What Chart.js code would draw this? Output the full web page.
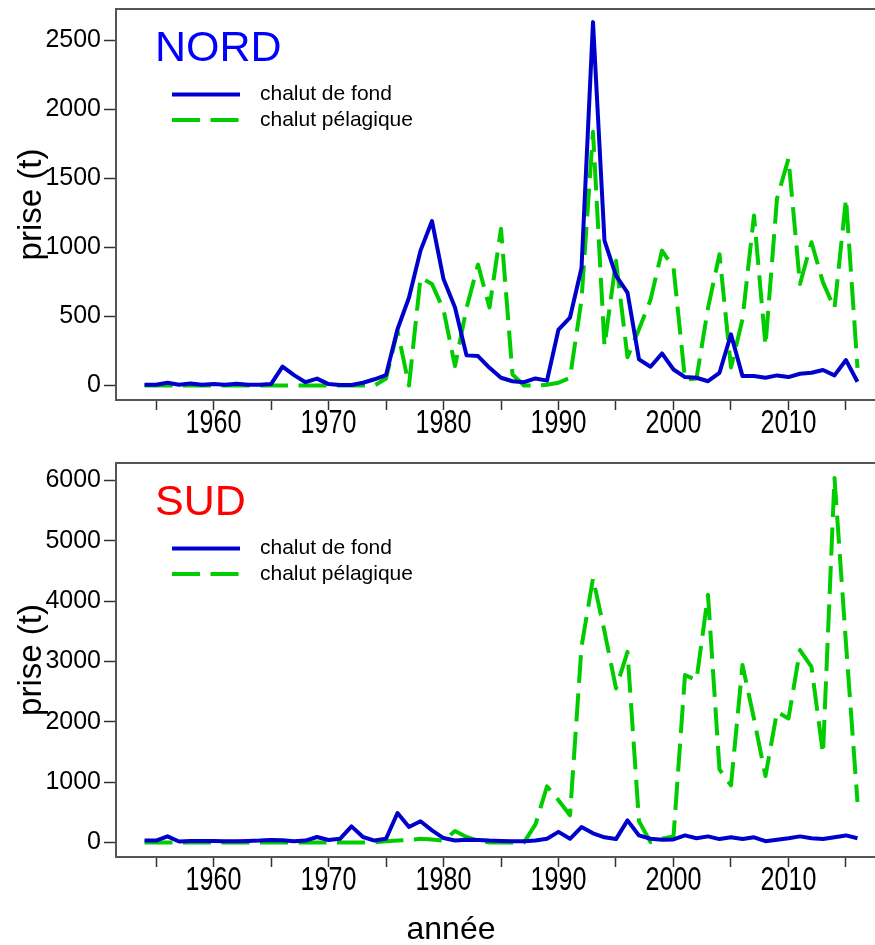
<!DOCTYPE html>
<html><head><meta charset="utf-8">
<script src="https://cdn.jsdelivr.net/npm/chart.js@4.4.0/dist/chart.umd.min.js"></script>
<style>
html,body{margin:0;padding:0;overflow:hidden;background:#fff;width:875px;height:945px}
canvas{position:absolute;left:0}
</style></head><body>
<canvas id="nord" width="900" height="445" style="top:0px"></canvas>
<canvas id="sud" width="900" height="500" style="top:445px"></canvas>
<script>
const years = [1954,1955,1956,1957,1958,1959,1960,1961,1962,1963,1964,1965,1966,1967,1968,1969,
  1970,1971,1972,1973,1974,1975,1976,1977,1978,1979,1980,1981,1982,1983,1984,1985,1986,1987,1988,1989,
  1990,1991,1992,1993,1994,1995,1996,1997,1998,1999,2000,2001,2002,2003,2004,2005,2006,2007,2008,2009,
  2010,2011,2012,2013,2014,2015,2016];

const nordFond = [5,5,20,5,15,5,10,5,12,5,5,10,136,75,24,50,
  10,3,3,20,45,75,407,637,976,1190,770,565,218,213,128,56,31,24,51,35,
  405,492,850,2630,1049,795,673,189,136,232,116,61,56,31,92,370,68,68,56,73,
  61,85,92,112,73,184,27];
const nordPelagique = [0,0,0,0,0,0,0,0,0,0,0,0,0,0,0,0,
  0,0,0,0,0,50,395,0,780,734,550,140,560,875,565,1134,80,0,0,5,
  20,56,620,1836,286,903,205,407,620,976,855,44,50,560,950,130,480,1230,290,1352,
  1642,734,1037,746,557,1352,128];

const sudFond = [30,30,100,15,25,25,25,20,20,25,30,40,35,20,30,90,
  40,60,266,90,30,60,487,255,350,200,72,33,45,40,30,25,20,20,30,60,
  175,60,255,150,85,55,365,116,61,45,50,116,70,100,55,85,55,85,20,45,
  70,100,70,55,85,116,70];
const sudPelagique = [0,0,0,0,0,0,0,0,0,0,0,0,0,0,0,0,
  0,0,0,0,0,20,30,40,60,50,30,188,90,30,0,0,0,0,300,930,
  700,450,3245,4380,3500,2553,3160,350,5,60,100,2775,2692,4105,1210,947,2941,2050,1100,2166,
  2055,3190,2910,1473,6045,3300,670];

const seriesLabels = ['chalut de fond', 'chalut pélagique'];
const xTickValues = [1955,1960,1965,1970,1975,1980,1985,1990,1995,2000,2005,2010,2015];
const xLabelledTicks = [1960,1970,1980,1990,2000,2010];
const nordYTicks = [0,500,1000,1500,2000,2500];
const sudYTicks = [0,1000,2000,3000,4000,5000,6000];

const BLUE = '#0000CC', GREEN = '#00CC00', FRAME = '#555555';
const SANS = '"Liberation Sans", Arial, sans-serif';

const decor = {
  id: 'decor',
  afterDraw(chart, args, opts) {
    const ctx = chart.ctx, a = chart.chartArea, xs = chart.scales.x;
    ctx.save();
    ctx.strokeStyle = FRAME; ctx.lineWidth = 2; ctx.setLineDash([]);
    ctx.strokeRect(a.left, a.top, a.right - a.left, a.bottom - a.top);
    // condensed x tick labels
    ctx.fillStyle = '#000'; ctx.textAlign = 'center'; ctx.textBaseline = 'middle';
    ctx.font = '33px ' + SANS;
    xLabelledTicks.forEach(v => {
      const px = xs.getPixelForValue(v);
      ctx.save();
      ctx.translate(px, a.bottom + 24);
      ctx.scale(0.76, 1);
      ctx.fillText(String(v), 0, 0);
      ctx.restore();
    });
    // panel title
    ctx.font = '43px ' + SANS;
    ctx.fillStyle = opts.color; ctx.textAlign = 'left'; ctx.textBaseline = 'alphabetic';
    ctx.fillText(opts.title, 155, a.top + 52);
    // legend
    chart.data.datasets.forEach((ds, i) => {
      const y = a.top + 85.5 + i * 25.5;
      ctx.beginPath();
      ctx.setLineDash(ds.borderDash || []);
      ctx.lineWidth = ds.borderWidth; ctx.strokeStyle = ds.borderColor; ctx.lineCap = 'butt';
      ctx.moveTo(172, y); ctx.lineTo(240, y); ctx.stroke();
      ctx.setLineDash([]);
      ctx.font = '21px ' + SANS; ctx.fillStyle = '#000'; ctx.textBaseline = 'middle';
      ctx.fillText(ds.label, 260, y);
    });
    if (opts.xTitle) {
      ctx.font = '32px ' + SANS; ctx.fillStyle = '#000';
      ctx.textAlign = 'center'; ctx.textBaseline = 'middle';
      ctx.fillText(opts.xTitle, 451, opts.xTitleY);
    }
    ctx.restore();
  }
};

function makeChart(id, fond, pel, yMin, yMax, yTicks, title, color, padTop, xHeight, xTitle, xTitleY) {
  return new Chart(document.getElementById(id), {
    type: 'line',
    data: {
      datasets: [
        { label: seriesLabels[0], data: years.map((y, i) => ({x: y, y: fond[i]})),
          borderColor: BLUE, borderWidth: 4, pointRadius: 0, tension: 0, borderJoinStyle: 'round' },
        { label: seriesLabels[1], data: years.map((y, i) => ({x: y, y: pel[i]})),
          borderColor: GREEN, borderWidth: 4, pointRadius: 0, tension: 0, borderDash: [28, 10.5], borderJoinStyle: 'round' }
      ]
    },
    options: {
      responsive: false, animation: false, devicePixelRatio: 1,
      layout: { padding: { top: padTop, right: 14, left: 0, bottom: 0 } },
      plugins: { legend: { display: false }, tooltip: { enabled: false },
        decor: { title: title, color: color, xTitle: xTitle, xTitleY: xTitleY } },
      scales: {
        x: {
          type: 'linear', min: 1951.52, max: 2018.48,
          afterBuildTicks: s => { s.ticks = xTickValues.map(v => ({value: v})); },
          afterFit: s => { s.height = xHeight; s.paddingLeft = 0; s.paddingRight = 0; },
          ticks: { autoSkip: false, maxRotation: 0, padding: 2, color: '#000',
            font: { family: SANS, size: 25 },
            callback: () => '' },
          grid: { display: true, drawOnChartArea: false, drawTicks: true, tickLength: 10,
            tickColor: '#333', tickWidth: 1.5 },
          border: { display: true, color: FRAME, width: 2 }
        },
        y: {
          min: yMin, max: yMax,
          afterBuildTicks: s => { s.ticks = yTicks.map(v => ({value: v})); },
          afterFit: s => { s.width = 116; s.paddingTop = 0; s.paddingBottom = 0; },
          ticks: { padding: 3, color: '#000', font: { family: SANS, size: 25 },
            callback: v => String(v) },
          grid: { display: true, drawOnChartArea: false, drawTicks: true, tickLength: 12,
            tickColor: '#333', tickWidth: 1.5 },
          border: { display: true, color: FRAME, width: 2 },
          title: { display: true, text: 'prise (t)', color: '#000',
            font: { family: SANS, size: 33 }, padding: { top: 12, bottom: 0 } }
        }
      }
    },
    plugins: [decor]
  });
}

makeChart('nord', nordFond, nordPelagique, -105, 2725, nordYTicks, 'NORD', '#0000FF', 9, 45, null, 0);
makeChart('sud', sudFond, sudPelagique, -242, 6292, sudYTicks, 'SUD', '#FF0000', 18, 88, 'année', 485);
</script>
</body></html>
